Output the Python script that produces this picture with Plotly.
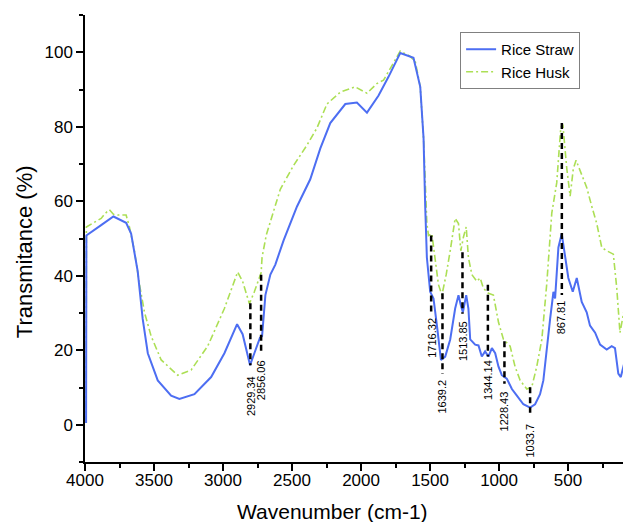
import plotly.graph_objects as go

# ---- data (x values read against the printed axis ticks) ----
straw_x = [3992, 3990, 3883, 3794, 3702, 3666, 3618, 3582, 3545, 3473, 3376, 3316, 3207, 3086,
           2990, 2898, 2858, 2804, 2773, 2732, 2717, 2693, 2657, 2621, 2561, 2464, 2368, 2295,
           2223, 2114, 2030, 1957, 1873, 1801, 1716, 1656, 1620, 1571, 1547, 1535, 1523, 1499,
           1475, 1450, 1421, 1390, 1354, 1318, 1294, 1277, 1262, 1238, 1222, 1209, 1173, 1149,
           1125, 1101, 1077, 1052, 1028, 1004, 980, 944, 907, 871, 824, 775, 739, 703, 679, 630,
           606, 594, 570, 546, 522, 498, 466, 437, 401, 365, 341, 304, 268, 220, 184, 160, 136,
           118, 87, 63, 44]
straw_y = [0.5, 50.8, 53.6, 55.9, 54.2, 51.3, 41.2, 28.4, 19.2, 11.9, 7.8, 6.9, 8.2, 12.8,
           19.2, 27.0, 24.3, 16.0, 19.2, 23.4, 23.8, 34.8, 40.3, 43.0, 49.5, 58.6, 65.9, 74.2,
           81.0, 86.1, 86.5, 83.8, 88.4, 93.4, 99.8, 98.9, 98.5, 90.7, 76.9, 58.6, 44.9, 35.7,
           33.9, 26.6, 17.4, 18.3, 22.9, 31.2, 34.8, 32.1, 30.2, 34.8, 31.2, 22.9, 21.5, 21.3,
           18.3, 19.7, 18.3, 20.6, 19.2, 15.6, 13.3, 12.4, 9.6, 7.8, 5.5, 4.6, 5.5, 8.2, 11.9, 28.4,
           35.7, 33.9, 47.6, 51.3, 44.9, 39.4, 35.7, 39.4, 33.0, 30.2, 26.6, 24.7, 21.5, 20.2, 21.1,
           20.6, 13.7, 12.8, 17.4, 22.9, 24.7]

husk_x = [3992, 3990, 3883, 3852, 3823, 3794, 3763, 3702, 3678, 3642, 3605, 3569, 3521, 3448,
          3328, 3231, 3111, 2990, 2894, 2858, 2809, 2773, 2724, 2717, 2686, 2585, 2489, 2391,
          2319, 2247, 2150, 2042, 1957, 1885, 1837, 1789, 1716, 1644, 1607, 1571, 1547, 1523,
          1511, 1487, 1463, 1439, 1414, 1383, 1354, 1318, 1294, 1277, 1258, 1238, 1222, 1197,
          1161, 1137, 1113, 1077, 1041, 1004, 968, 920, 884, 847, 799, 763, 727, 690, 654, 618,
          582, 553, 538, 509, 485, 462, 442, 401, 365, 328, 292, 256, 220, 172, 147, 124, 87,
          63, 44]
husk_y = [0.5, 53.1, 55.4, 56.8, 57.7, 56.5, 56.3, 56.3, 53.1, 46.7, 37.6, 30.2, 23.8, 17.4,
          13.3, 14.7, 21.1, 31.2, 41.0, 38.5, 32.5, 35.7, 40.8, 45.0, 51.0, 63.2, 69.6, 75.1,
          79.7, 86.1, 89.3, 90.7, 89.0, 91.6, 92.5, 95.7, 100.3, 98.9, 97.5, 90.7, 76.9, 54.0,
          50.8, 51.3, 44.0, 37.6, 34.8, 40.3, 46.7, 55.4, 54.0, 46.7, 50.4, 53.1, 44.9, 40.3,
          38.5, 39.4, 36.6, 35.3, 34.8, 27.5, 22.9, 21.1, 15.6, 11.9, 9.6, 10.1, 15.6, 22.9, 38.0,
          56.8, 65.0, 79.7, 80.6, 68.7, 61.4, 68.7, 71.0, 66.9, 63.7, 58.6, 54.0, 47.6, 46.7,
          45.8, 36.6, 24.7, 32.1, 44.0, 47.6]

peak_labels = ["2929.34", "2856.06", "1716.32", "1639.2", "1513.85", "1344.14",
               "1228.43", "1033.7", "867.81"]
peak_x = [2802, 2724, 1492, 1410, 1265, 1081, 961, 775, 545]
peak_top = [32.6, 40.3, 50.8, 35.3, 46.3, 37.6, 22.4, 10.1, 81.0]
peak_bottom = [16.0, 19.2, 29.8, 13.7, 29.8, 18.3, 11.0, 3.2, 34.8]
label_top = [13.7, 17.9, 29.3, 12.8, 28.5, 17.9, 9.6, 0.9, 33.9]

x_ticks = [4000, 3500, 3000, 2500, 2000, 1500, 1000, 500]
y_ticks = [0, 20, 40, 60, 80, 100]

FONT = "Liberation Sans, Arial, sans-serif"

fig = go.Figure()
fig.add_trace(go.Scatter(x=husk_x, y=husk_y, mode="lines", name="Rice Husk",
                         line=dict(color="#acdf55", width=1.6, dash="7px,3px,2px,3px")))
fig.add_trace(go.Scatter(x=straw_x, y=straw_y, mode="lines", name="Rice Straw",
                         line=dict(color="#4d6ef2", width=2.0)))

for px, top, bot in zip(peak_x, peak_top, peak_bottom):
    fig.add_trace(go.Scatter(x=[px, px], y=[top, bot], mode="lines", showlegend=False,
                             line=dict(color="black", width=2.5, dash="6px,4px"),
                             hoverinfo="skip"))

for lab, px, ly in zip(peak_labels, peak_x, label_top):
    fig.add_annotation(x=px, y=ly, text=lab, textangle=-90, showarrow=False,
                       xanchor="center", yanchor="top",
                       font=dict(family=FONT, size=11, color="black"))

fig.add_annotation(text="Wavenumber (cm-1)", xref="paper", yref="paper",
                   x=(332 - 85) / 546, y=(454 - 503) / 439, showarrow=False,
                   xanchor="center", yanchor="middle",
                   font=dict(family=FONT, size=21, color="black"))
fig.add_annotation(text="Transmitance (%)", xref="paper", yref="paper",
                   x=(24 - 85) / 546, y=(454 - 248) / 439, showarrow=False,
                   textangle=-90, xanchor="center", yanchor="middle",
                   font=dict(family=FONT, size=22, color="black"))

# the page body adds an 8px offset, so the figure is 8px smaller than the window
fig.update_layout(
    width=623, height=514,
    margin=dict(l=77, r=0, t=7, b=60, autoexpand=False),
    paper_bgcolor="white", plot_bgcolor="white",
    font=dict(family=FONT, color="black"),
    legend=dict(x=0.687, y=0.962, xanchor="left", yanchor="top",
                bordercolor="#808080", borderwidth=1, bgcolor="white",
                font=dict(size=15, family=FONT), traceorder="reversed",
                tracegroupgap=0, itemwidth=30),
    showlegend=True,
)
fig.update_xaxes(range=[4000, 44], tickvals=x_ticks, showgrid=False, zeroline=False,
                 showline=True, linecolor="black", linewidth=1.5,
                 ticks="outside", ticklen=7, tickwidth=1.5, tickcolor="black",
                 tickfont=dict(size=17, family=FONT), ticklabelstandoff=-5,
                 minor=dict(dtick=250, tick0=0, ticks="outside", ticklen=4,
                            tickwidth=1.5, tickcolor="black"))
fig.update_yaxes(range=[-10, 110], tickvals=y_ticks, showgrid=False, zeroline=False,
                 showline=True, linecolor="black", linewidth=1.5,
                 ticks="outside", ticklen=7, tickwidth=1.5, tickcolor="black",
                 tickfont=dict(size=17, family=FONT),
                 minor=dict(dtick=10, tick0=0, ticks="outside", ticklen=4,
                            tickwidth=1.5, tickcolor="black"))

fig.write_html("out.html")
